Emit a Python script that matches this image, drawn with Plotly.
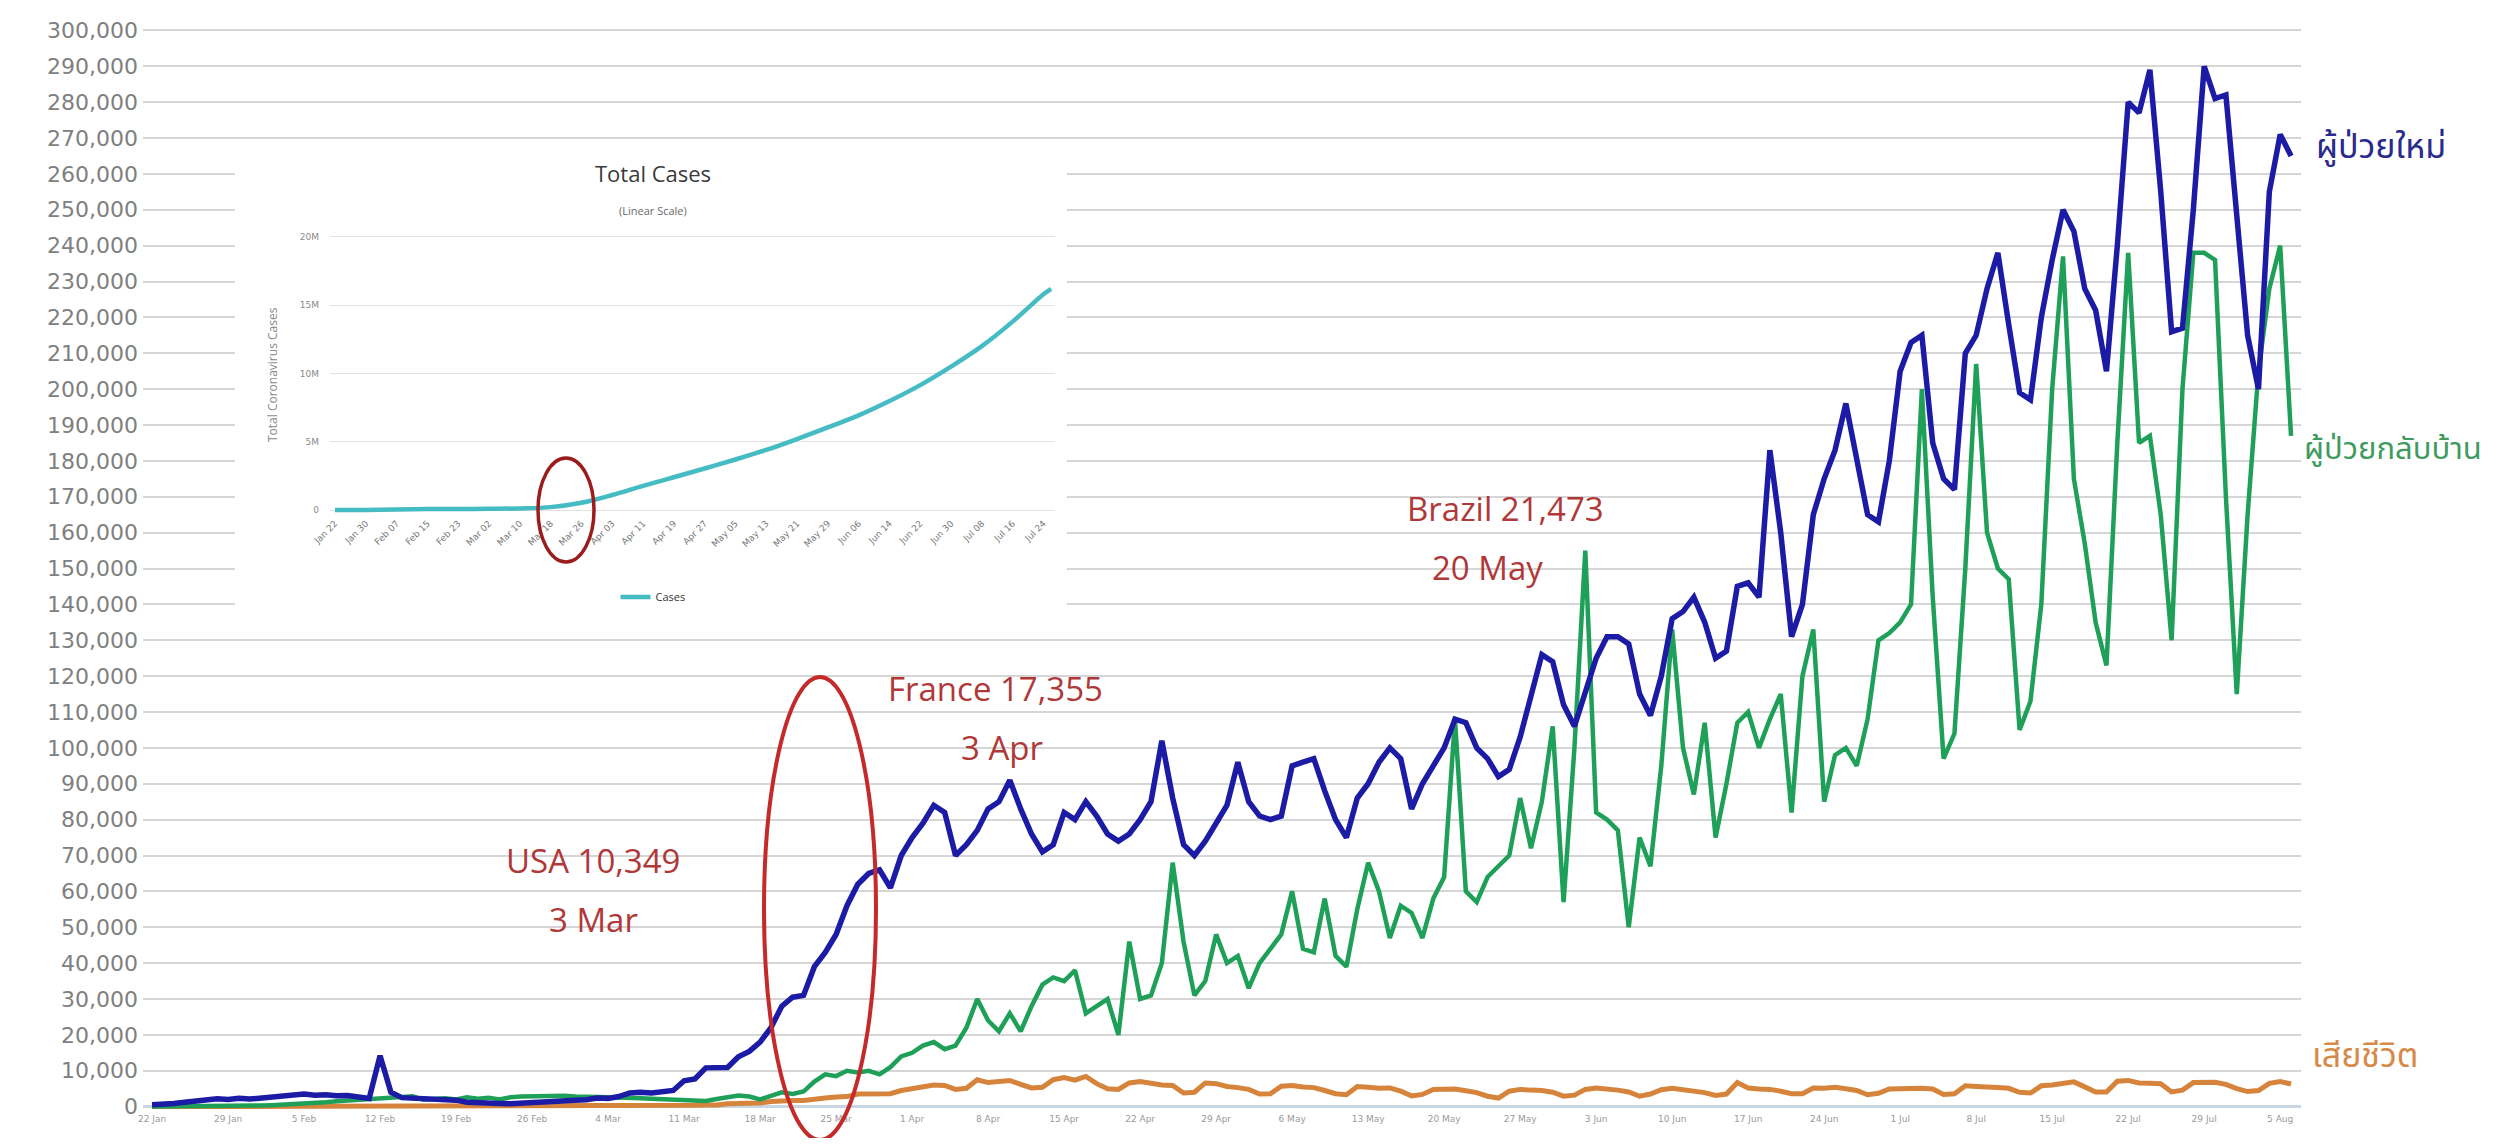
import pandas as pd
import plotly.graph_objects as go

# ---------------- data ----------------
start_date = "2020-01-22"
end_date = "2020-08-06"

new_cases = [
    # Jan 22-31
    500, 600, 900, 1200, 1600, 1900, 2200, 2000, 2300, 2100,
    # Feb
    2400, 2600, 3000, 3300, 3500, 3200, 3300, 3000, 3100, 2700,
    2300, 14200, 4000, 2500, 2300, 2200, 2000, 1900, 1800, 1200,
    1000, 1100, 900, 800, 1000, 1100, 1300, 1500, 1900,
    # Mar
    1800, 1900, 2400, 2300, 2800, 3800, 4000, 3800, 4000, 4500,
    7200, 7700, 10800, 11000, 10900, 13900, 15400, 18000, 22000, 28000,
    30500, 31000, 39000, 43000, 48000, 56000, 62000, 65000, 66000, 61000,
    70000,
    # Apr
    75000, 79000, 84000, 82000, 70000, 73000, 77000, 83000, 85000, 91000,
    83000, 76000, 71000, 73000, 82000, 80000, 85000, 81000, 76000, 74000,
    76000, 80000, 85000, 102000, 86000, 73000, 70000, 74000, 79000, 84000,
    # May
    96000, 85000, 81000, 80000, 81000, 95000, 96000, 97000, 88000, 80000,
    75000, 86000, 90000, 96000, 100000, 97000, 83000, 90000, 95000, 100000,
    108000, 107000, 100000, 97000, 92000, 94000, 103000, 115000, 126000, 124000,
    112000,
    # Jun
    106000, 116000, 125000, 131000, 131000, 129000, 115000, 109000, 120000, 136000,
    138000, 142000, 135000, 125000, 127000, 145000, 146000, 142000, 183000, 160000,
    131000, 140000, 165000, 175000, 183000, 196000, 180000, 165000, 163000, 180000,
    # Jul
    205000, 213000, 215000, 185000, 175000, 172000, 210000, 215000, 228000, 238000,
    218000, 199000, 197000, 220000, 236000, 250000, 244000, 228000, 222000, 205000,
    240000, 280000, 277000, 289000, 255000, 216000, 217000, 250000, 290000, 281000,
    282000,
    # Aug 1-6
    250000, 215000, 200000, 255000, 271000, 265000,
]

recovered = [
    # Jan 22-31
    30, 30, 40, 50, 50, 60, 100, 130, 170, 220,
    # Feb
    300, 400, 500, 600, 700, 900, 1200, 1500, 1700, 1800,
    2100, 2200, 2500, 2700, 2900, 1900, 2000, 2300, 2000, 2600,
    2200, 2500, 2000, 2600, 2800, 2900, 3000, 3200, 3000,
    # Mar
    2800, 2600, 2700, 2600, 2400, 2200, 2300, 2200, 2100, 2000,
    1800, 1500, 1600, 2100, 2600, 3100, 2800, 2000, 3000, 4000,
    3500, 4200, 7000, 9000, 8500, 10000, 9500, 10000, 9000, 11000,
    14000,
    # Apr
    15000, 17000, 18000, 16000, 17000, 22000, 30000, 24000, 21000, 26000,
    21000, 28000, 34000, 36000, 35000, 38000, 26000, 28000, 30000, 20000,
    46000, 30000, 31000, 40000, 68000, 46000, 31000, 35000, 48000, 40000,
    # May
    42000, 33000, 40000, 44000, 48000, 60000, 44000, 43000, 58000, 42000,
    39000, 55000, 68000, 60000, 47000, 56000, 54000, 47000, 58000, 64000,
    108000, 60000, 57000, 64000, 67000, 70000, 86000, 72000, 85000, 106000,
    57000,
    # Jun
    100000, 155000, 82000, 80000, 77000, 50000, 75000, 67000, 95000, 133000,
    100000, 87000, 107000, 75000, 90000, 107000, 110000, 100000, 108000, 115000,
    82000, 120000, 133000, 85000, 98000, 100000, 95000, 108000, 130000, 132000,
    # Jul
    135000, 140000, 200000, 142000, 97000, 104000, 150000, 207000, 160000, 150000,
    147000, 105000, 113000, 140000, 200000, 237000, 175000, 157000, 135000, 123000,
    185000, 238000, 185000, 187000, 165000, 130000, 200000, 238000, 238000, 236000,
    170000,
    # Aug 1-6
    115000, 165000, 205000, 228000, 240000, 187000,
]

deaths = [
    # Jan 22-31
    20, 0, 10, 20, 20, 30, 30, 30, 40, 40,
    # Feb
    50, 60, 60, 70, 70, 90, 90, 90, 100, 110,
    100, 120, 260, 140, 140, 100, 100, 100, 130, 120,
    120, 100, 100, 160, 80, 60, 50, 60, 70,
    # Mar
    60, 70, 80, 110, 110, 100, 110, 200, 210, 270,
    350, 350, 440, 430, 780, 820, 960, 1000, 1400, 1700,
    1700, 1700, 1900, 2400, 2700, 2800, 3500, 3600, 3400, 3600,
    4500,
    # Apr
    5000, 5700, 6000, 5900, 4800, 5100, 7500, 6700, 7100, 7300,
    6200, 5200, 5400, 7500, 8100, 7400, 8400, 6400, 5000, 4800,
    6600, 7000, 6500, 6000, 5900, 3800, 4000, 6600, 6400, 5600,
    # May
    5300, 4800, 3500, 3600, 5700, 5900, 5500, 5300, 4500, 3600,
    3300, 5600, 5400, 5100, 5200, 4300, 3000, 3400, 4800, 4700,
    4900, 4400, 3900, 2900, 2400, 4300, 4800, 4600, 4500, 4000,
    2900,
    # Jun
    3200, 4800, 5200, 5000, 4600, 4100, 2900, 3500, 4700, 5100,
    4700, 4200, 3900, 3100, 3500, 6700, 5200, 4900, 4800, 4300,
    3600, 3600, 5200, 5100, 5400, 5000, 4500, 3300, 3700, 4900,
    # Jul
    5000, 5000, 5100, 4900, 3400, 3600, 5800, 5600, 5300, 5300,
    5100, 4000, 3800, 5800, 6000, 6400, 6900, 5500, 4100, 4100,
    7100, 7300, 6600, 6500, 6400, 4100, 4600, 6700, 6900, 6800,
    6200,
    # Aug 1-6
    5000, 4200, 4500, 6500, 7000, 6300,
]

# inset: total cases (linear scale)
inset_dates = [
    "2020-01-22", "2020-01-30", "2020-02-07", "2020-02-15", "2020-02-23",
    "2020-03-02", "2020-03-10", "2020-03-18", "2020-03-26", "2020-04-03",
    "2020-04-11", "2020-04-19", "2020-04-27", "2020-05-05", "2020-05-13",
    "2020-05-21", "2020-05-29", "2020-06-06", "2020-06-14", "2020-06-22",
    "2020-06-30", "2020-07-08", "2020-07-16", "2020-07-24", "2020-07-26",
]
inset_total = [
    580, 9900, 34500, 69000, 79000,
    90300, 119000, 214000, 530000, 1100000,
    1770000, 2400000, 3040000, 3700000, 4400000,
    5200000, 6050000, 6930000, 7980000, 9150000,
    10500000, 12000000, 13800000, 15800000, 16200000,
]

label_new = "ผู้ป่วยใหม่"
label_recovered = "ผู้ป่วยกลับบ้าน"
label_deaths = "เสียชีวิต"
inset_title = "Total Cases"
inset_subtitle = "(Linear Scale)"
inset_ytitle = "Total Coronavirus Cases"
inset_series = "Cases"
notes = [
    ("USA 10,349", "3 Mar"),
    ("France 17,355", "3 Apr"),
    ("Brazil 21,473", "20 May"),
]

dates = pd.date_range(start_date, end_date, freq="D")
assert len(dates) == len(new_cases) == len(recovered) == len(deaths)

# ---------------- style ----------------
BLUE = "#1b1ba6"
GREEN = "#1fa058"
ORANGE = "#d6843c"
CYAN = "#45bcc4"
NOTE_RED = "#b03838"
THAI = "Noto Sans Thai, Noto Sans Thai UI, Noto Sans, Tahoma, sans-serif"

# the page body has an 8px default margin: compensate so the figure
# lands where the reference chart sits in the window
OFF = 8
W, H = 2497 - OFF, 1146 - 2 * OFF
PLOT_L, PLOT_R, PLOT_T, PLOT_B = 143, 2301, 25, 1112   # window coordinates
L = PLOT_L - OFF
T = PLOT_T - OFF
R = W - (PLOT_R - OFF)
B = H - (PLOT_B - OFF)
PW, PH = PLOT_R - PLOT_L, PLOT_B - PLOT_T


def px(x):
    return (x - PLOT_L) / PW


def py(y):
    return (PLOT_B - y) / PH


fig = go.Figure()

fig.add_trace(go.Scatter(x=dates, y=deaths, mode="lines",
                         line=dict(color=ORANGE, width=5), showlegend=False,
                         hoverinfo="skip"))
fig.add_trace(go.Scatter(x=dates, y=recovered, mode="lines",
                         line=dict(color=GREEN, width=4.5), showlegend=False,
                         hoverinfo="skip"))
fig.add_trace(go.Scatter(x=dates, y=new_cases, mode="lines",
                         line=dict(color=BLUE, width=5.5), showlegend=False,
                         hoverinfo="skip"))

# blank subplot providing the white inset panel
fig.add_trace(go.Scatter(x=[None], y=[None], xaxis="x2", yaxis="y2",
                         showlegend=False, hoverinfo="skip"))

# inset chart
fig.add_trace(go.Scatter(x=inset_dates, y=inset_total, mode="lines",
                         line=dict(color=CYAN, width=4.5, shape="spline"),
                         name=inset_series, xaxis="x3", yaxis="y3",
                         showlegend=True, hoverinfo="skip"))

day = 86400000

fig.update_layout(
    width=W, height=H, autosize=False,
    template="none",
    paper_bgcolor="white", plot_bgcolor="white",
    margin=dict(l=L, r=R, t=T, b=B, pad=0),
    font=dict(family="DejaVu Sans, sans-serif"),
    xaxis=dict(
        type="date",
        range=[pd.Timestamp(start_date) - pd.Timedelta(hours=20),
               pd.Timestamp(end_date) + pd.Timedelta(hours=22)],
        tick0=start_date, dtick=7 * day, tickformat="%-d %b",
        tickfont=dict(size=9, color="#9a9a9a", family="DejaVu Sans"),
        showgrid=False, zeroline=False, showline=False, ticks="",
    ),
    yaxis=dict(
        range=[-1500, 301500], dtick=10000, tick0=0, tickformat=",d",
        tickfont=dict(size=22, color="#808080", family="DejaVu Sans"),
        gridcolor="#d6d6d6", gridwidth=1.5,
        zeroline=True, zerolinecolor="#c8d5e3", zerolinewidth=2.5,
        showline=False, ticks="", ticklabelstandoff=4,
    ),
    xaxis2=dict(domain=[px(235), px(1067)], anchor="y2", visible=False,
                range=[0, 1]),
    yaxis2=dict(domain=[py(625), py(150)], anchor="x2", visible=False,
                range=[0, 1]),
    xaxis3=dict(
        domain=[px(330), px(1055)], anchor="y3", type="date",
        range=[pd.Timestamp("2020-01-22") - pd.Timedelta(hours=31),
               pd.Timestamp("2020-07-27")],
        tick0="2020-01-22", dtick=8 * day, tickformat="%b %d",
        tickangle=-45, tickfont=dict(size=9, color="#7a7a7a"),
        showgrid=False, zeroline=False, showline=False, ticks="",
    ),
    yaxis3=dict(
        domain=[py(515.5), py(231.5)], anchor="x3",
        range=[-400000, 20400000], dtick=5000000, tick0=0, tickformat="~s",
        tickfont=dict(size=9, color="#8a8a8a"),
        gridcolor="#e3e3e3", gridwidth=1,
        zeroline=False, showline=False, ticks="", ticklabelstandoff=10,
    ),
    legend=dict(x=px(653), y=py(597), xanchor="center", yanchor="middle",
                orientation="h", bgcolor="rgba(0,0,0,0)",
                font=dict(size=11, color="#333333", family="Open Sans"),
                itemwidth=30),
    showlegend=True,
)


def note(x, y, text, size, color, family, xanchor="center", angle=0):
    return dict(x=px(x), y=py(y), xref="paper", yref="paper",
                xanchor=xanchor, yanchor="middle", text=text,
                showarrow=False, textangle=angle,
                font=dict(size=size, color=color, family=family))


ann = []
# inset texts
ann.append(note(653, 173, inset_title, 22, "#3a3a3a", "Open Sans"))
ann.append(note(653, 210, inset_subtitle, 11, "#6a6a6a", "Open Sans"))
ann.append(note(272, 375, inset_ytitle, 12, "#8a8a8a", "Open Sans", angle=-90))

# country notes
note_pos = [((593, 860), (593, 920)),
            ((995, 688), (1002, 747)),
            ((1505, 508), (1487, 567))]
for (t1, t2), ((x1, y1), (x2, y2)) in zip(notes, note_pos):
    ann.append(note(x1, y1, t1, 33, NOTE_RED, "Open Sans"))
    ann.append(note(x2, y2, t2, 33, NOTE_RED, "Open Sans"))

# right-side series labels
ann.append(note(2314, 147, label_new, 34, "#2a2a8c", THAI, xanchor="left"))
ann.append(note(2302, 449, label_recovered, 31, "#3f9b60", THAI, xanchor="left"))
ann.append(note(2310, 1056, label_deaths, 34, "#d68a48", THAI, xanchor="left"))
fig.update_layout(annotations=ann)

# red ellipses
fig.add_shape(type="circle", xref="paper", yref="paper",
              x0=px(764), x1=px(876), y0=py(1140), y1=py(677),
              line=dict(color="#c42a2a", width=4), layer="above")
fig.add_shape(type="circle", xref="paper", yref="paper",
              x0=px(538), x1=px(594), y0=py(562), y1=py(458),
              line=dict(color="#9b1c1c", width=3.5), layer="above")

fig.write_html("out.html")
